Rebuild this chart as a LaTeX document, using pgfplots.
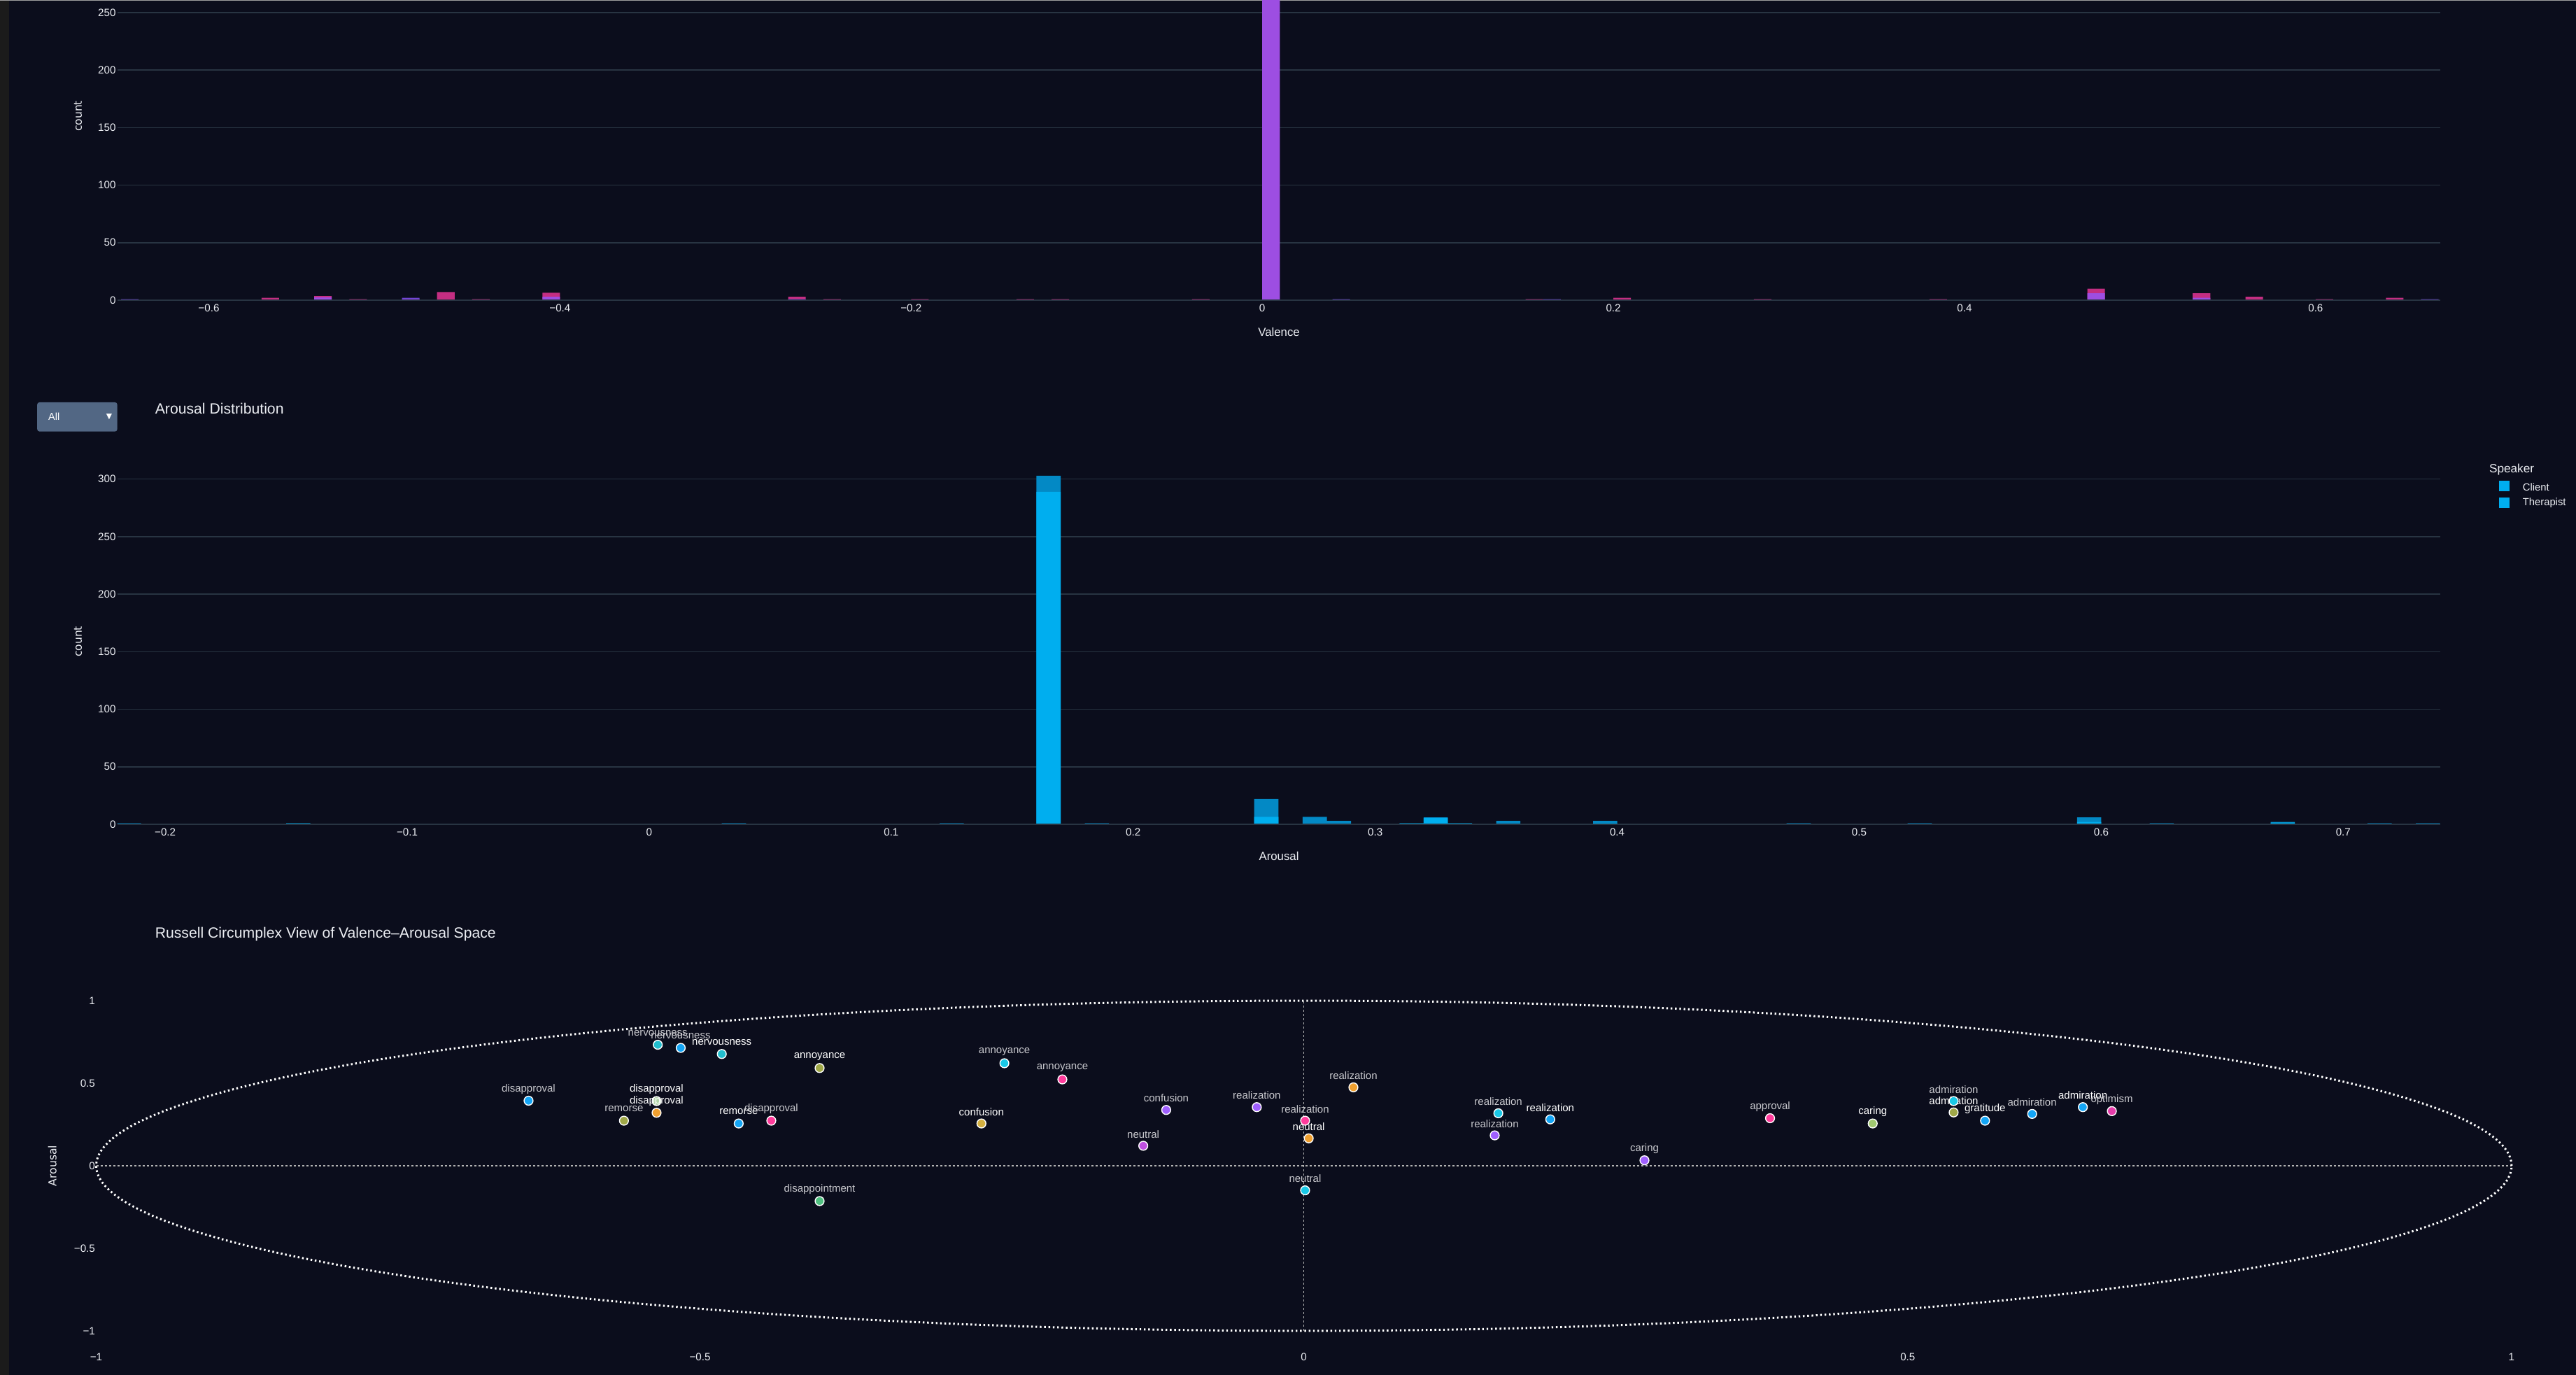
\documentclass[border=0pt]{standalone}
\usepackage{fontspec}
\setmainfont{Liberation Sans}
\newfontfamily\dejavu{DejaVu Sans}
\usepackage{pgfplots}
\pgfplotsset{compat=1.18}

\definecolor{bg}{RGB}{11,13,28}
\definecolor{strip}{RGB}{27,27,27}
\definecolor{gridc}{RGB}{40,52,66}
\definecolor{tickc}{RGB}{235,237,242}
\definecolor{labc}{RGB}{200,200,205}
\definecolor{vpink}{RGB}{196,46,130}
\definecolor{vpurple}{RGB}{157,78,226}
\definecolor{vblue}{RGB}{110,68,212}
\definecolor{adark}{RGB}{3,137,197}
\definecolor{abright}{RGB}{0,174,239}
\definecolor{ddc}{RGB}{82,103,132}
\definecolor{cteal}{RGB}{34,190,205}
\definecolor{ccyan}{RGB}{25,200,230}
\definecolor{cblue}{RGB}{20,165,245}
\definecolor{colive}{RGB}{160,168,72}
\definecolor{corange}{RGB}{240,160,48}
\definecolor{cpink}{RGB}{255,60,156}
\definecolor{cgreen}{RGB}{80,192,128}
\definecolor{cgold}{RGB}{212,176,64}
\definecolor{cpurple}{RGB}{160,96,255}
\definecolor{cmagenta}{RGB}{192,80,224}
\definecolor{clight}{RGB}{180,215,170}
\definecolor{clgreen}{RGB}{160,200,112}
\definecolor{cmag2}{RGB}{230,60,170}

\pgfplotsset{
  base/.style={scale only axis, anchor=south west,
    axis line style={draw=none}, major tick length=0pt, tick style={draw=none},
    ticklabel style={font=\fontsize{3.8}{4}\selectfont, text=tickc, inner sep=0pt}},
  hist/.style={base, ymajorgrids, grid style={gridc, line width=0.4pt}, clip=true,
    xticklabel style={anchor=center, yshift=-2.9pt},
    yticklabel style={anchor=east, xshift=-0.4pt}},
  hb/.style={ybar, bar width=0.01, bar shift=0, draw=none, fill=#1},
  sp/.style={only marks, mark=*, mark size=1.6pt,
    mark options={fill=#1, draw=white, line width=0.35pt},
    nodes near coords, point meta=explicit symbolic,
    nodes near coords style={font=\fontsize{3.75}{4}\selectfont, text=labc, anchor=center, yshift=4.15pt, inner sep=0pt}},
  spb/.style={sp=#1, nodes near coords style={text=white}},
}

\begin{document}
\begin{tikzpicture}[x=1pt,y=1pt]
\path[use as bounding box] (0,0) rectangle (920.5,491.25);
\clip (0,0) rectangle (920.5,491.25);
\fill[bg] (0,0) rectangle (920.5,491.25);
\fill[strip] (0,0) rectangle (3.2,491.25);
\draw[gray!75, line width=0.35pt] (0,491.1) -- (920.5,491.1);

% ---------------- Valence histogram ----------------
\begin{axis}[hist, at={(42pt,384pt)}, width=830pt, height=130.8pt,
  xmin=-0.652, xmax=0.671, ymin=0, ymax=318.2,
  xtick={-0.6,-0.4,-0.2,0,0.2,0.4,0.6},
  xticklabels={−0.6,−0.4,−0.2,0,0.2,0.4,0.6},
  ytick={0,50,100,150,200,250},
  yticklabels={0,50,100,150,200,250}]
\addplot[hb=vpink] coordinates {
 (-0.565,2) (-0.535,3.5) (-0.515,1) (-0.465,7) (-0.445,1) (-0.405,6.5)
 (-0.265,3) (-0.245,1) (-0.195,1) (-0.135,1) (-0.115,1) (-0.035,1)
 (0.155,1) (0.205,2) (0.285,1) (0.385,1) (0.475,10) (0.535,6) (0.565,3)
 (0.605,1) (0.645,2)};
\addplot[hb=vblue] coordinates {
 (-0.645,1) (-0.485,2) (0.045,1) (0.165,1) (0.665,1) (-0.265,1)};
\addplot[hb=vpurple] coordinates {
 (-0.535,2.5) (-0.485,1) (-0.405,3) (0.005,303) (0.475,6) (0.535,2)};
\draw[gridc, line width=0.55pt] (axis cs:-0.652,0) -- (axis cs:0.671,0);
\end{axis}

% ---------------- Arousal histogram ----------------
\begin{axis}[hist, at={(42pt,196.75pt)}, width=830pt, height=130.8pt,
  xmin=-0.2197, xmax=0.7401, ymin=0, ymax=318.2,
  xtick={-0.2,-0.1,0,0.1,0.2,0.3,0.4,0.5,0.6,0.7},
  xticklabels={−0.2,−0.1,0,0.1,0.2,0.3,0.4,0.5,0.6,0.7},
  ytick={0,50,100,150,200,250,300},
  yticklabels={0,50,100,150,200,250,300}]
\addplot[hb=adark] coordinates {
 (-0.215,1) (0.035,1) (0.125,1) (0.165,303) (0.185,1) (0.255,22)
 (0.275,6.5) (0.285,3) (0.325,6) (0.355,3) (0.395,3) (0.475,1)
 (0.525,1) (0.595,6) (0.625,1) (0.675,2) (0.715,1) (0.735,1)};
\addplot[hb=abright] coordinates {
 (-0.145,1) (0.165,289) (0.255,6.5) (0.315,1) (0.325,5.5) (0.335,1)
 (0.395,1) (0.595,2) (0.675,1.5)};
\draw[gridc, line width=0.55pt] (axis cs:-0.2197,0) -- (axis cs:0.7401,0);
\end{axis}

% ---------------- Russell circumplex ----------------
\begin{axis}[base, at={(34.375pt,12.83pt)}, width=863.1pt, height=123.85pt,
  xmin=-1, xmax=1, ymin=-1.05, ymax=1.05, clip=false,
  xtick={-1,-0.5,0,0.5,1}, xticklabels={−1,−0.5,0,0.5,1},
  ytick={-1,-0.5,0,0.5,1}, yticklabels={−1,−0.5,0,0.5,1},
  xticklabel style={anchor=center, yshift=-6.5pt},
  yticklabel style={anchor=east, xshift=-0.2pt}]
\draw[gray!60, line width=0.28pt, dash pattern=on 0.75pt off 0.75pt] (axis cs:-1,0) -- (axis cs:1,0);
\draw[gray!60, line width=0.28pt, dash pattern=on 0.75pt off 0.75pt] (axis cs:0,-1) -- (axis cs:0,1);
\draw[white, line width=0.75pt, dash pattern=on 0.6pt off 0.95pt] (axis cs:0,0) ellipse [x radius=1, y radius=1];
\addplot[sp=cteal] coordinates {(-0.535,0.733) [nervousness]};
\addplot[sp=cblue] coordinates {(-0.516,0.714) [nervousness] (-0.642,0.394) [disapproval] (0.603,0.314) [admiration]};
\addplot[spb=cteal] coordinates {(-0.482,0.677) [nervousness]};
\addplot[spb=colive] coordinates {(-0.401,0.592) [annoyance] (0.538,0.323) [admiration]};
\addplot[spb=clight] coordinates {(-0.536,0.392) [disapproval]};
\addplot[spb=corange] coordinates {(-0.536,0.321) [disapproval] (0.004,0.166) [neutral]};
\addplot[sp=colive] coordinates {(-0.563,0.273) [remorse]};
\addplot[spb=cblue] coordinates {(-0.468,0.256) [remorse] (0.204,0.281) [realization] (0.564,0.273) [gratitude] (0.645,0.355) [admiration]};
\addplot[sp=cpink] coordinates {(-0.441,0.273) [disapproval] (-0.200,0.523) [annoyance] (0.001,0.273) [realization] (0.386,0.288) [approval]};
\addplot[sp=cgreen] coordinates {(-0.401,-0.214) [disappointment]};
\addplot[sp=ccyan] coordinates {(-0.248,0.621) [annoyance] (0.001,-0.149) [neutral] (0.161,0.318) [realization] (0.538,0.392) [admiration]};
\addplot[spb=cgold] coordinates {(-0.267,0.256) [confusion]};
\addplot[sp=cpurple] coordinates {(-0.114,0.338) [confusion] (-0.039,0.355) [realization] (0.158,0.184) [realization] (0.282,0.033) [caring]};
\addplot[sp=corange] coordinates {(0.041,0.475) [realization]};
\addplot[sp=cmagenta] coordinates {(-0.133,0.121) [neutral]};
\addplot[spb=clgreen] coordinates {(0.471,0.256) [caring]};
\addplot[sp=cmag2] coordinates {(0.669,0.331) [optimism]};
\end{axis}

% ---------------- texts ----------------
\node[text=tickc, font=\fontsize{4.2}{5}\selectfont] at (457,372.5) {Valence};
\node[text=tickc, font=\fontsize{4.2}{5}\selectfont] at (457,185.25) {Arousal};
\node[text=tickc, font=\dejavu\fontsize{3.9}{4.5}\selectfont, rotate=90] at (27.9,449.75) {count};
\node[text=tickc, font=\dejavu\fontsize{3.9}{4.5}\selectfont, rotate=90] at (27.9,262) {count};
\node[text=tickc, font=\dejavu\fontsize{3.9}{4.5}\selectfont, rotate=90] at (18.7,74.75) {Arousal};
\node[anchor=west, inner sep=0pt, text=tickc, font=\fontsize{5.3}{6}\selectfont] at (55.25,345.25) {Arousal Distribution};
\node[anchor=west, inner sep=0pt, text=tickc, font=\fontsize{5.3}{6}\selectfont] at (55.25,157.6) {Russell Circumplex View of Valence–Arousal Space};
% dropdown
\fill[ddc, rounded corners=0.8pt] (13.3,337.1) rectangle (41.9,347.5);
\node[anchor=west, inner sep=0pt, text=white, font=\fontsize{3.6}{4}\selectfont] at (17.1,342.3) {All};
\node[inner sep=0pt, text=white, font=\dejavu\fontsize{2.7}{3}\selectfont] at (39,342.4) {▼};
% legend
\node[anchor=west, inner sep=0pt, text=tickc, font=\fontsize{4.3}{5}\selectfont] at (889.3,323.5) {Speaker};
\fill[abright] (892.9,315.7) rectangle (896.75,319.4);
\fill[abright] (892.9,309.75) rectangle (896.75,313.6);
\node[anchor=west, inner sep=0pt, text=tickc, font=\fontsize{3.7}{4}\selectfont] at (901.25,317.25) {Client};
\node[anchor=west, inner sep=0pt, text=tickc, font=\fontsize{3.7}{4}\selectfont] at (901.25,311.5) {Therapist};
\end{tikzpicture}
\end{document}
